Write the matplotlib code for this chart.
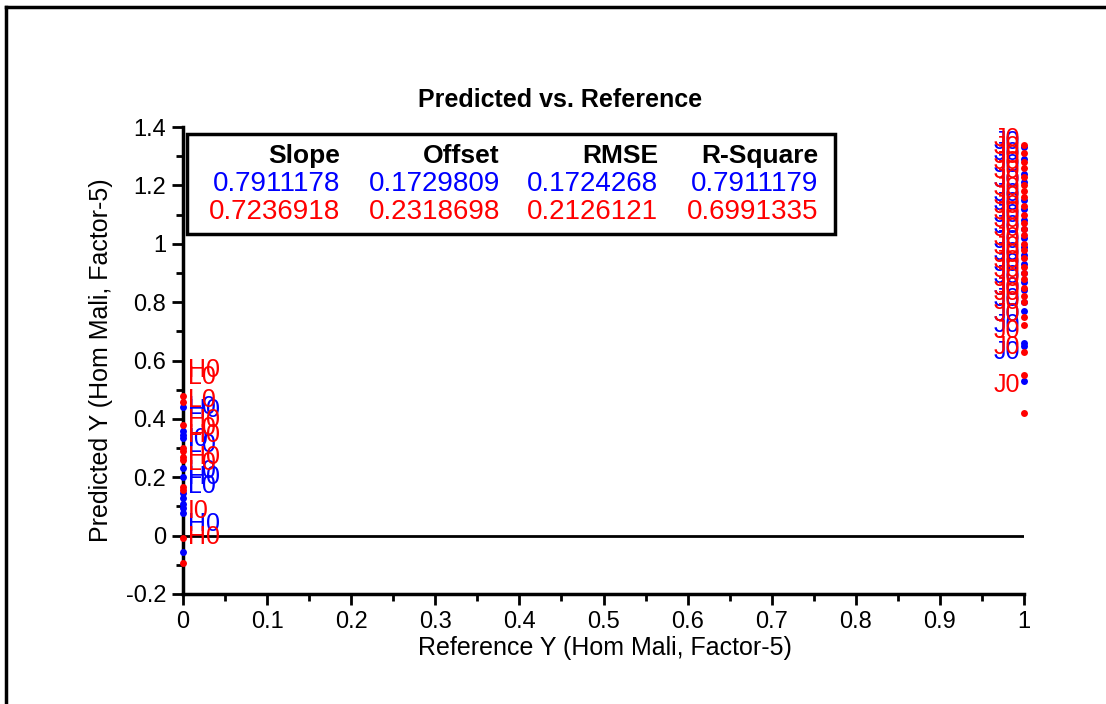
import numpy as np
import matplotlib.pyplot as plt
from matplotlib.ticker import MultipleLocator

plt.rcParams['font.family'] = ['Liberation Sans', 'DejaVu Sans']

# --- data ---
# dots at reference 0 and 1 (blue = calibration, red = validation)
blue_dots_0 = [0.44, 0.36, 0.345, 0.335, 0.23, 0.20, 0.146, 0.13, 0.11, 0.095, 0.077, -0.055]
red_dots_0 = [0.48, 0.458, 0.38, 0.30, 0.29, 0.27, 0.26, 0.167, 0.156, -0.008, -0.095]
blue_dots_1 = [1.33, 1.29, 1.24, 1.21, 1.15, 1.12, 1.08, 1.05, 1.02, 0.99, 0.96, 0.93,
               0.90, 0.87, 0.84, 0.80, 0.77, 0.66, 0.65, 0.53]
red_dots_1 = [1.338, 1.31, 1.28, 1.26, 1.23, 1.20, 1.18, 1.16, 1.13, 1.10, 1.07, 1.05,
              1.03, 1.00, 0.98, 0.95, 0.92, 0.90, 0.88, 0.85, 0.82, 0.80, 0.75, 0.72,
              0.63, 0.55, 0.42]

# labelled samples near reference 0
blue_lab_0 = ['H0', 'L0', 'I0', 'L0', 'L0', 'H0', 'L0', 'H0']
blue_lab_0_y = [0.43, 0.44, 0.33, 0.31, 0.22, 0.20, 0.17, 0.04]
red_lab_0 = ['H0', 'L0', 'L0', 'H0', 'L0', 'H0', 'H0', 'L0', 'I0', 'H0']
red_lab_0_y = [0.567, 0.545, 0.465, 0.395, 0.37, 0.345, 0.27, 0.25, 0.085, -0.005]

# labelled samples near reference 1 (all J0)
blue_lab_1_y = [1.35, 1.31, 1.27, 1.22, 1.17, 1.14, 1.10, 1.06, 1.01, 0.97, 0.93,
                0.89, 0.85, 0.81, 0.76, 0.72, 0.63]
red_lab_1_y = [1.36, 1.33, 1.30, 1.28, 1.25, 1.22, 1.19, 1.16, 1.13, 1.11, 1.08,
               1.05, 1.02, 0.99, 0.96, 0.94, 0.91, 0.88, 0.85, 0.83, 0.80, 0.76,
               0.70, 0.646, 0.516]

stat_names = ['Slope', 'Offset', 'RMSE', 'R-Square']
blue_stats = ['0.7911178', '0.1729809', '0.1724268', '0.7911179']
red_stats = ['0.7236918', '0.2318698', '0.2126121', '0.6991335']

BLUE = '#0000ff'
RED = '#ff0000'
W, H = 1106, 704


def tick_fmt(v, pos):
    if abs(v) < 1e-9:
        return '0'
    return f'{v:.1f}'.rstrip('0').rstrip('.')


fig = plt.figure(figsize=(W / 100, H / 100), dpi=100)
ax = fig.add_axes([183 / W, 1 - 594 / H, 841 / W, 467 / H])

# outer frame (only top and left edges visible in the reference)
fig.add_artist(plt.Line2D([6 / W, 1.0], [1 - 7 / H, 1 - 7 / H],
                          color='black', lw=2.5, transform=fig.transFigure))
fig.add_artist(plt.Line2D([6 / W, 6 / W], [0.0, 1 - 7 / H],
                          color='black', lw=2.5, transform=fig.transFigure))

ax.axhline(0, color='black', lw=2, zorder=1)

lab_kw = dict(fontsize=18, ha='left', va='center', zorder=3)
for t, y in zip(blue_lab_0, blue_lab_0_y):
    ax.text(0.006, y, t, color=BLUE, **lab_kw)
for t, y in zip(red_lab_0, red_lab_0_y):
    ax.text(0.006, y, t, color=RED, **lab_kw)
for y in blue_lab_1_y:
    ax.text(0.964, y, 'J0', color=BLUE, **lab_kw)
for y in red_lab_1_y:
    ax.text(0.964, y, 'J0', color=RED, **lab_kw)

ax.plot(np.zeros(len(blue_dots_0)), blue_dots_0, 'o', color=BLUE, ms=5, mew=0, clip_on=False, zorder=4)
ax.plot(np.zeros(len(red_dots_0)), red_dots_0, 'o', color=RED, ms=5, mew=0, clip_on=False, zorder=4)
ax.plot(np.ones(len(blue_dots_1)), blue_dots_1, 'o', color=BLUE, ms=5, mew=0, clip_on=False, zorder=4)
ax.plot(np.ones(len(red_dots_1)), red_dots_1, 'o', color=RED, ms=5, mew=0, clip_on=False, zorder=4)

ax.set_xlim(0, 1)
ax.set_ylim(-0.2, 1.4)
ax.xaxis.set_major_locator(MultipleLocator(0.1))
ax.xaxis.set_minor_locator(MultipleLocator(0.05))
ax.yaxis.set_major_locator(MultipleLocator(0.2))
ax.yaxis.set_minor_locator(MultipleLocator(0.1))
ax.xaxis.set_major_formatter(plt.FuncFormatter(tick_fmt))
ax.yaxis.set_major_formatter(plt.FuncFormatter(tick_fmt))
for s in ['top', 'right']:
    ax.spines[s].set_visible(False)
for s in ['left', 'bottom']:
    ax.spines[s].set_linewidth(2.5)
ax.tick_params(which='major', direction='out', length=8, width=2, labelsize=17, pad=4)
ax.tick_params(which='minor', direction='out', length=5, width=2)

fig.text(560 / W, 1 - 100 / H, 'Predicted vs. Reference', fontsize=18,
         fontweight='bold', ha='center', va='center')
ax.set_xlabel('Reference Y (Hom Mali, Factor-5)', fontsize=18, va='center')
ax.xaxis.set_label_coords((605 - 183) / 841, (594 - 648) / 467)
ax.set_ylabel('Predicted Y (Hom Mali, Factor-5)', fontsize=18, va='center')
ax.yaxis.set_label_coords((101 - 183) / 841, (594 - 360) / 467)

# statistics box
box = plt.Rectangle((4 / 841, (594 - 234) / 467), 648 / 841, 100 / 467,
                    transform=ax.transAxes, fill=True, facecolor='white',
                    edgecolor='black', lw=2.5, zorder=5)
ax.add_patch(box)
col_x = [340, 500, 658, 818]
row_y = [156, 184, 212]
for i in range(4):
    xa = (col_x[i] - 183) / 841
    ax.text(xa, (594 - row_y[0]) / 467, stat_names[i], transform=ax.transAxes,
            ha='right', va='center', fontsize=19, fontweight='bold', zorder=6)
    ax.text(xa, (594 - row_y[1]) / 467, blue_stats[i], transform=ax.transAxes,
            ha='right', va='center', fontsize=20, color=BLUE, zorder=6)
    ax.text(xa, (594 - row_y[2]) / 467, red_stats[i], transform=ax.transAxes,
            ha='right', va='center', fontsize=20, color=RED, zorder=6)

fig.savefig('out.png', dpi=100)
